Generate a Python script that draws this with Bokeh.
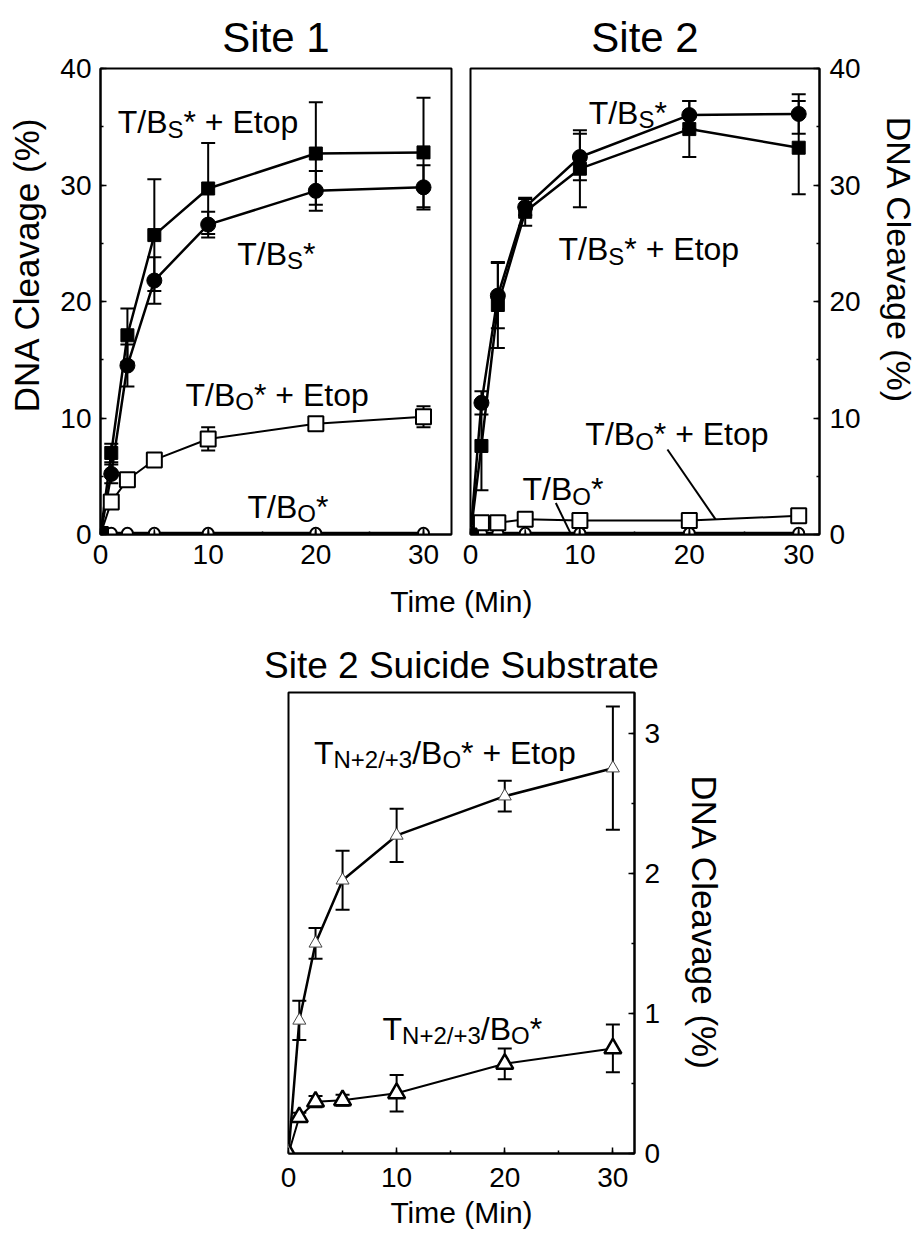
import math
from bokeh.plotting import figure
from bokeh.models import (Range1d, SingleIntervalTicker, Whisker, TeeHead,
                          ColumnDataSource)
from bokeh.layouts import column, row
from bokeh.embed import file_html
from bokeh.resources import INLINE
from bokeh.core.properties import value

# ---------------- data ----------------
time = [0, 1, 2.5, 5, 10, 20, 30]

# Site 1
s1_bs_etop = [0, 7.0, 17.1, 25.7, 29.7, 32.7, 32.8]
s1_bs_etop_err = [0, 0.8, 2.3, 4.8, 3.9, 4.4, 4.7]
s1_bs = [0, 5.2, 14.5, 21.8, 26.6, 29.5, 29.8]
s1_bs_err = [0, 0.8, 1.8, 2.0, 1.1, 1.7, 1.9]
s1_bo_etop = [0, 2.8, 4.7, 6.4, 8.2, 9.5, 10.1]
s1_bo_etop_err = [0, 0.3, 0.3, 0.3, 1.0, 0.3, 0.9]
s1_bo = [0, 0.1, 0.1, 0.1, 0.1, 0.1, 0.1]
s1_bo_err = [0, 0, 0, 0.35, 0.35, 0.35, 0.35]

# Site 2
s2_bs = [0, 11.3, 20.5, 28.1, 32.4, 36.0, 36.1]
s2_bs_err = [0, 1.0, 2.8, 0.7, 2.0, 1.2, 1.7]
s2_bs_etop = [0, 7.6, 19.7, 27.7, 31.4, 34.8, 33.2]
s2_bs_etop_err = [0, 3.8, 3.7, 1.2, 3.3, 2.4, 4.0]
s2_bo_etop = [0, 1.0, 1.0, 1.3, 1.2, 1.2, 1.6]
s2_bo = [0, 0.1, 0.1, 0.1, 0.1, 0.1, 0.1]
s2_bo_err = [0, 0, 0, 0.35, 0.35, 0.35, 0.35]

# Site 2 suicide substrate
s3_etop = [0, 0.95, 1.50, 1.95, 2.27, 2.55, 2.75]
s3_etop_err = [0, 0.14, 0.11, 0.21, 0.19, 0.11, 0.44]
s3_bo = [0, 0.26, 0.37, 0.38, 0.43, 0.64, 0.75]
s3_bo_err = [0, 0.03, 0.04, 0.04, 0.13, 0.11, 0.17]

# ---------------- helpers ----------------
FONT = "Liberation Sans"
W = {'T': 611, '/': 278, 'B': 667, 'S': 667, 'O': 778, '*': 389, ' ': 278,
     '+': 584, 'E': 667, 't': 278, 'o': 556, 'p': 556, 'N': 722, '2': 556,
     '3': 556}


def tw(s, size):
    return sum(W.get(c, 556) for c in s) * size / 1000.0


def rich(p, x, y, parts):
    off = 0.0
    for s, sz, dy in parts:
        p.text(x=[x], y=[y], text=[s], text_font=value(FONT),
               text_font_size=value(f"{sz}px"), x_offset=off, y_offset=dy,
               text_align="left", text_baseline="alphabetic",
               text_color="black")
        off += tw(s, sz)


def whiskers(p, x, y, err, head=14, lw=2, level="underlay"):
    xs, up, lo = [], [], []
    for xi, yi, ei in zip(x, y, err):
        if ei > 0:
            xs.append(xi)
            up.append(yi + ei)
            lo.append(yi - ei)
    src = ColumnDataSource(dict(base=xs, upper=up, lower=lo))
    w = Whisker(source=src, base="base", upper="upper", lower="lower",
                line_width=lw, line_color="black", level=level,
                upper_head=TeeHead(size=head, line_width=lw, line_color="black"),
                lower_head=TeeHead(size=head, line_width=lw, line_color="black"))
    p.add_layout(w)


def style(p, ymajor, yminor_n, xstand):
    p.outline_line_color = "black"
    p.outline_line_width = 2
    p.grid.visible = False
    p.background_fill_color = "white"
    p.border_fill_color = "white"
    p.xaxis.ticker = SingleIntervalTicker(interval=10, num_minor_ticks=2)
    p.yaxis.ticker = SingleIntervalTicker(interval=ymajor, num_minor_ticks=yminor_n)
    for ax in p.xaxis + p.yaxis:
        ax.axis_line_width = 2
        ax.axis_line_color = "black"
        ax.major_tick_in = 6
        ax.major_tick_out = 0
        ax.minor_tick_in = 3
        ax.minor_tick_out = 0
        ax.major_tick_line_width = 1.5
        ax.minor_tick_line_width = 1.5
        ax.major_tick_line_color = "black"
        ax.minor_tick_line_color = "black"
        ax.major_label_text_font = FONT
        ax.major_label_text_font_size = "28px"
        ax.major_label_text_color = "black"
        ax.axis_label_text_font = FONT
        ax.axis_label_text_font_style = "normal"
        ax.axis_label_text_color = "black"
    for ax in p.xaxis:
        ax.major_label_standoff = xstand
    for ax in p.yaxis:
        ax.major_label_standoff = 9
    p.title.text_font = FONT
    p.title.text_font_style = "normal"
    p.title.text_color = "black"
    p.title.align = "center"


def strip(width, height):
    s = figure(width=width, height=height, x_range=Range1d(0, width),
               y_range=Range1d(0, height), x_axis_location=None,
               y_axis_location=None, min_border=0, toolbar_location=None,
               output_backend="svg", outline_line_color=None)
    s.grid.visible = False
    return s


def strip_text(s, x, y, text, size, angle=0.0):
    s.text(x=[x], y=[y], text=[text], angle=angle, text_font=value(FONT),
           text_font_size=value(size), text_align="center",
           text_baseline="middle", text_color="black")


SUB = 24
BIG = 32
DY = 7
ROW1_H = 578

# ---------------- left / right label strips ----------------
left_strip = strip(50, ROW1_H)
strip_text(left_strip, 26, ROW1_H - 243, "DNA Cleavage (%)", "35px", math.pi / 2)
right_strip = strip(58, ROW1_H)
strip_text(right_strip, 35, ROW1_H - 238, "DNA Cleavage (%)", "34px", -math.pi / 2)

# ---------------- Site 1 ----------------
p1 = figure(width=410, height=ROW1_H, title="Site 1",
            x_range=Range1d(0, 32.6), y_range=Range1d(0, 40),
            min_border_left=50, min_border_right=9, min_border_top=68,
            min_border_bottom=44, toolbar_location=None, output_backend="svg")
style(p1, 10, 2, 10)
p1.title.text_font_size = "42px"
p1.title.standoff = 16

whiskers(p1, time, s1_bs_etop, s1_bs_etop_err)
whiskers(p1, time, s1_bs, s1_bs_err)
whiskers(p1, time, s1_bo_etop, s1_bo_etop_err)
p1.line(time, s1_bo, line_color="black", line_width=3)
p1.line(time, s1_bo_etop, line_color="black", line_width=2)
p1.line(time, s1_bs, line_color="black", line_width=2.5)
p1.line(time, s1_bs_etop, line_color="black", line_width=2.5)
p1.scatter(time, s1_bo, marker="circle", size=11, fill_color="white",
           line_color="black", line_width=2)
p1.segment(x0=time, y0=[a - b for a, b in zip(s1_bo, s1_bo_err)],
           x1=time, y1=[a + b for a, b in zip(s1_bo, s1_bo_err)],
           line_color="black", line_width=1.5)
p1.scatter(time, s1_bo_etop, marker="square", size=15, fill_color="white",
           line_color="black", line_width=2)
p1.scatter(time, s1_bs, marker="circle", size=15, fill_color="black",
           line_color="black")
p1.scatter(time, s1_bs_etop, marker="square", size=13, fill_color="black",
           line_color="black")

rich(p1, 1.6, 35.4, [("T/B", BIG, 0), ("S", SUB, DY), ("* + Etop", BIG, 0)])
rich(p1, 12.7, 24.1, [("T/B", BIG, 0), ("S", SUB, DY), ("*", BIG, 0)])
rich(p1, 7.9, 12.0, [("T/B", BIG, 0), ("O", SUB, DY), ("* + Etop", BIG, 0)])
rich(p1, 13.65, 2.4, [("T/B", BIG, 0), ("O", SUB, DY), ("*", BIG, 0)])

# ---------------- Site 2 ----------------
p2 = figure(width=403, height=ROW1_H, title="Site 2",
            x_range=Range1d(0, 31.9), y_range=Range1d(0, 40),
            y_axis_location="right",
            min_border_left=10, min_border_right=44, min_border_top=68,
            min_border_bottom=44, toolbar_location=None, output_backend="svg")
style(p2, 10, 2, 10)
p2.title.text_font_size = "42px"
p2.title.standoff = 16
for ax in p2.yaxis:
    ax.major_label_standoff = 10

whiskers(p2, time, s2_bs, s2_bs_err)
whiskers(p2, time, s2_bs_etop, s2_bs_etop_err)
p2.line(time, s2_bo, line_color="black", line_width=3)
p2.line(time, s2_bo_etop, line_color="black", line_width=2)
p2.line(time, s2_bs_etop, line_color="black", line_width=2.5)
p2.line(time, s2_bs, line_color="black", line_width=2.5)
p2.scatter(time, s2_bo, marker="circle", size=11, fill_color="white",
           line_color="black", line_width=2)
p2.segment(x0=time, y0=[a - b for a, b in zip(s2_bo, s2_bo_err)],
           x1=time, y1=[a + b for a, b in zip(s2_bo, s2_bo_err)],
           line_color="black", line_width=1.5)
p2.scatter(time, s2_bo_etop, marker="square", size=15, fill_color="white",
           line_color="black", line_width=2)
p2.scatter(time, s2_bs_etop, marker="square", size=13, fill_color="black",
           line_color="black")
p2.scatter(time, s2_bs, marker="circle", size=15, fill_color="black",
           line_color="black")

# leader lines for the two low series
p2.segment(x0=[18.0, 7.8], y0=[7.3, 2.7], x1=[22.4, 9.15], y1=[1.3, 0.1],
           line_color="black", line_width=2)

rich(p2, 10.8, 36.2, [("T/B", BIG, 0), ("S", SUB, DY), ("*", BIG, 0)])
rich(p2, 8.05, 24.5, [("T/B", BIG, 0), ("S", SUB, DY), ("* + Etop", BIG, 0)])
rich(p2, 10.5, 8.6, [("T/B", BIG, 0), ("O", SUB, DY), ("* + Etop", BIG, 0)])
rich(p2, 4.75, 3.9, [("T/B", BIG, 0), ("O", SUB, DY), ("*", BIG, 0)])

# ---------------- shared x label ----------------
mid = strip(921, 50)
strip_text(mid, 460, 27, "Time (Min)", "30px")

# ---------------- Site 2 suicide substrate ----------------
p3 = figure(width=921, height=608, title="Site 2 Suicide Substrate",
            x_range=Range1d(0, 32.0), y_range=Range1d(0, 3.29),
            y_axis_location="right",
            min_border_left=288, min_border_right=287, min_border_top=64,
            min_border_bottom=83, toolbar_location=None, output_backend="svg")
style(p3, 1, 2, 14)
p3.title.text_font_size = "37px"
p3.title.standoff = 14
p3.xaxis.axis_label = "Time (Min)"
p3.xaxis.axis_label_text_font_size = "30px"
p3.xaxis.axis_label_standoff = 6
p3.yaxis.axis_label = "DNA Cleavage (%)"
p3.yaxis.axis_label_text_font_size = "35px"
p3.yaxis.axis_label_standoff = 22
for ax in p3.yaxis:
    ax.major_label_standoff = 10

whiskers(p3, time, s3_etop, s3_etop_err, head=14, lw=2)
whiskers(p3, time, s3_bo, s3_bo_err, head=14, lw=2)
p3.line(time, s3_etop, line_color="black", line_width=2.5)
p3.line(time, s3_bo, line_color="black", line_width=2)
p3.scatter(time, s3_etop, marker="triangle", size=13, fill_color="white",
           line_color="#444444", line_width=1)
p3.scatter(time, s3_bo, marker="triangle", size=17, fill_color="white",
           line_color="black", line_width=2.5)

rich(p3, 2.35, 2.86, [("T", BIG, 0), ("N+2/+3", SUB, DY), ("/B", BIG, 0),
                      ("O", SUB, DY), ("* + Etop", BIG, 0)])
rich(p3, 8.7, 0.89, [("T", BIG, 0), ("N+2/+3", SUB, DY), ("/B", BIG, 0),
                     ("O", SUB, DY), ("*", BIG, 0)])

layout = column(row(left_strip, p1, p2, right_strip), mid, p3)
open("out.html", "w").write(file_html(layout, INLINE))
